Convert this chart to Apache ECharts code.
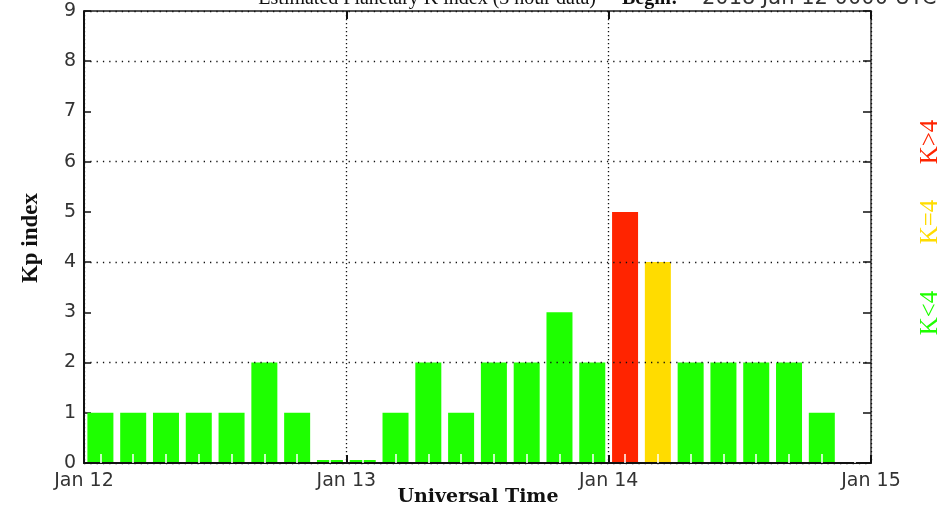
<!DOCTYPE html>
<html>
<head>
<meta charset="utf-8">
<script src="https://cdn.jsdelivr.net/npm/echarts@6/dist/echarts.min.js"></script>
<style>
html,body{margin:0;padding:0;background:#fff;}
#c{width:942px;height:513px;}
</style>
</head>
<body>
<div id="c"></div>
<script>
// ---- data ----
var periods = [
  'Jan 12 00','Jan 12 03','Jan 12 06','Jan 12 09','Jan 12 12','Jan 12 15','Jan 12 18','Jan 12 21',
  'Jan 13 00','Jan 13 03','Jan 13 06','Jan 13 09','Jan 13 12','Jan 13 15','Jan 13 18','Jan 13 21',
  'Jan 14 00','Jan 14 03','Jan 14 06','Jan 14 09','Jan 14 12','Jan 14 15','Jan 14 18','Jan 14 21'
];
var kpValues = [
  1, 1, 1, 1, 1, 2, 1, 0,
  0, 1, 2, 1, 2, 2, 3, 2,
  5, 4, 2, 2, 2, 2, 1, null
];
var dayLabels = ['Jan 12', 'Jan 13', 'Jan 14', 'Jan 15'];
var yTicks = [0, 1, 2, 3, 4, 5, 6, 7, 8, 9];
var legendLabels = ['K<4', 'K=4', 'K>4'];

var GREEN = '#1eff00', YELLOW = '#ffdc00', RED = '#ff2400';
function kColor(v) { return v > 4 ? RED : (v === 4 ? YELLOW : GREEN); }

var chart = echarts.init(document.getElementById('c'), null, {renderer: 'canvas'});
var tickFont = {fontFamily: 'DejaVu Sans', fontSize: 19, color: '#333', fontWeight: 'normal'};

var option = {
  animation: false,
  backgroundColor: '#fff',
  grid: {left: 84, right: 71, top: 11, bottom: 50},
  xAxis: [
    { // time scale in hours from Jan 12 00 UT (bottom)
      type: 'value', position: 'bottom', min: 0, max: 72, interval: 24,
      axisLine: {show: true, onZero: false, lineStyle: {color: '#111', width: 2}},
      axisTick: {show: true, inside: true, length: 8, lineStyle: {color: '#111', width: 2}},
      axisLabel: Object.assign({margin: 9, formatter: function (v) { return dayLabels[v / 24]; }}, tickFont),
      splitLine: {show: true, lineStyle: {color: '#111', width: 1.3, type: [1.3, 2.7]}},
      z: 10
    },
    { // top frame
      type: 'value', position: 'top', min: 0, max: 72, interval: 24,
      axisLine: {show: true, onZero: false, lineStyle: {color: '#555', width: 2}},
      axisTick: {show: true, inside: true, length: 8, lineStyle: {color: '#111', width: 2}},
      axisLabel: {show: false}, splitLine: {show: false}
    },
    { // categories for bars
      type: 'category', position: 'bottom', data: periods,
      axisLine: {show: false, onZero: false},
      axisTick: {show: true, inside: true, length: 9, interval: 0, alignWithLabel: true, lineStyle: {color: '#fff', width: 1.5}},
      axisLabel: {show: false}, splitLine: {show: false},
      z: 11
    }
  ],
  yAxis: [
    {
      type: 'value', position: 'left', min: 0, max: 9, interval: 1,
      axisLine: {show: true, onZero: false, lineStyle: {color: '#111', width: 2}},
      axisTick: {show: true, inside: true, length: 7, lineStyle: {color: '#111', width: 1.5}},
      axisLabel: Object.assign({margin: 8, formatter: function (v) { return yTicks.indexOf(v) >= 0 ? String(v) : ''; }}, tickFont),
      splitLine: {show: false}
    },
    {
      type: 'value', position: 'right', min: 0, max: 9, interval: 1,
      axisLine: {show: true, onZero: false, lineStyle: {color: '#333', width: 1.5}},
      axisTick: {show: true, inside: true, length: 8, lineStyle: {color: '#111', width: 1.5}},
      axisLabel: {show: false}, splitLine: {show: false}
    },
    { // dotted grid at even values
      type: 'value', position: 'left', min: 0, max: 9, interval: 2,
      axisLine: {show: false, onZero: false}, axisTick: {show: false}, axisLabel: {show: false},
      splitLine: {show: true, lineStyle: {color: '#111', width: 1.3, type: [1.3, 5]}},
      z: 10
    }
  ],
  series: [{
    type: 'bar', xAxisIndex: 2, yAxisIndex: 0,
    data: kpValues.map(function (v) { return v === null ? '-' : {value: v, itemStyle: {color: kColor(v)}}; }),
    barWidth: 26, barMinHeight: 3,
    z: 2
  }],
  graphic: [
    {type: 'text', x: 596, y: 9, style: {text: 'Estimated Planetary K index (3 hour data)', font: '20px "Liberation Serif"', fill: '#111', textAlign: 'right', textVerticalAlign: 'bottom'}},
    {type: 'text', x: 622, y: 9, style: {text: 'Begin:', font: 'bold 20px "Liberation Serif"', fill: '#111', textAlign: 'left', textVerticalAlign: 'bottom'}},
    {type: 'text', x: 702, y: 9, style: {text: '2018 Jan 12 0000 UTC', font: '21px "DejaVu Sans"', fill: '#333', textAlign: 'left', textVerticalAlign: 'bottom'}},
    {type: 'text', x: 478, y: 497, style: {text: 'Universal Time', font: 'bold 19px "DejaVu Serif"', fill: '#111', textAlign: 'center', textVerticalAlign: 'middle'}},
    {type: 'text', x: 31, y: 238, rotation: Math.PI / 2, style: {text: 'Kp index', font: 'bold 23px "Liberation Serif"', fill: '#111', textAlign: 'center', textVerticalAlign: 'middle'}},
    {type: 'text', x: 930, y: 313, rotation: Math.PI / 2, style: {text: legendLabels[0], font: '25px "Liberation Serif"', fill: GREEN, textAlign: 'center', textVerticalAlign: 'middle'}},
    {type: 'text', x: 930, y: 222, rotation: Math.PI / 2, style: {text: legendLabels[1], font: '25px "Liberation Serif"', fill: YELLOW, textAlign: 'center', textVerticalAlign: 'middle'}},
    {type: 'text', x: 930, y: 142, rotation: Math.PI / 2, style: {text: legendLabels[2], font: '25px "Liberation Serif"', fill: RED, textAlign: 'center', textVerticalAlign: 'middle'}}
  ]
};
chart.setOption(option);
</script>
</body>
</html>
